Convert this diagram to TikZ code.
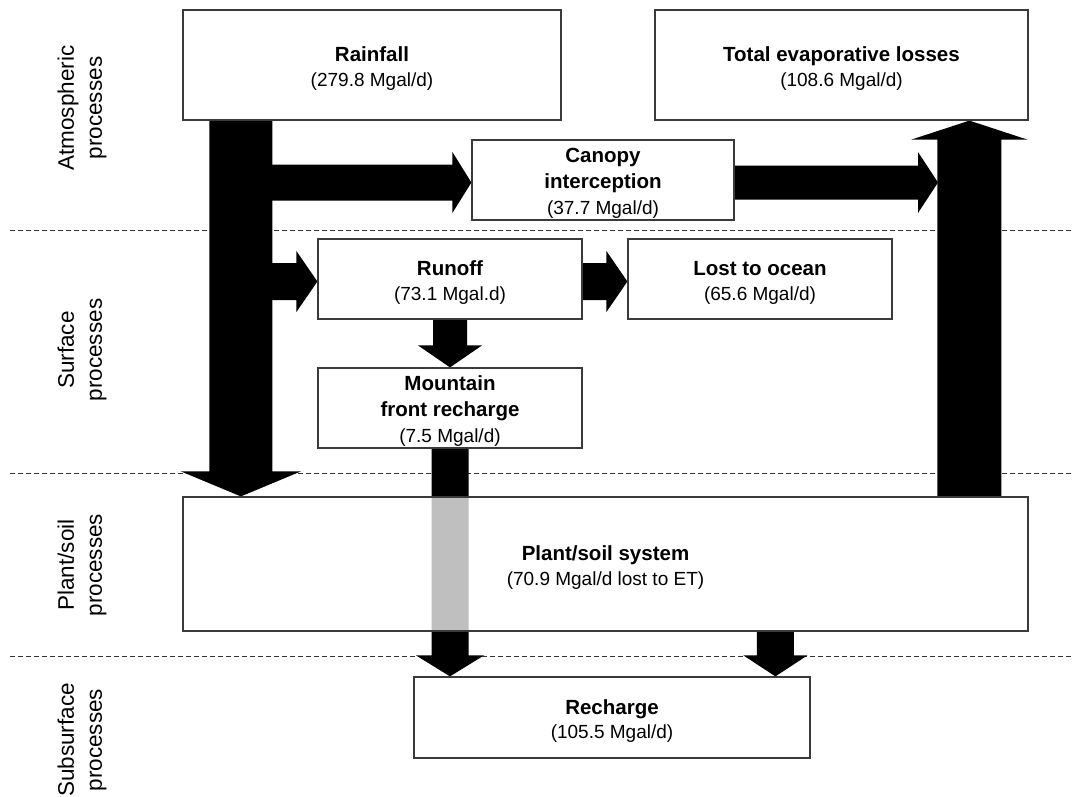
\documentclass[tikz,border=0pt]{standalone}
\usepackage{fontspec}
\setmainfont{Liberation Sans}
\usetikzlibrary{calc}
\definecolor{edgec}{HTML}{3A3A3A}
\definecolor{dashc}{HTML}{333333}
\newcommand{\ttl}[2][0pt]{{\fontsize{20.5}{24.5}\selectfont\bfseries\rule{0pt}{#1}#2}}
\newcommand{\ttlw}[2][0pt]{{\fontsize{20.5}{26}\selectfont\bfseries\rule{0pt}{#1}#2}}
\newcommand{\val}[1]{{\fontsize{19}{24.5}\selectfont #1}}
\newcommand{\valw}[1]{{\fontsize{19}{26}\selectfont #1}}
% vertical arrow downward: start, end (only its y is used), shaft half width, head half width, head length
\newcommand{\downarr}[5]{\fill[blk] let \p1=(#1),\p2=(#2) in
  (\x1-#3pt,\y1) -- (\x1-#3pt,\y2+#5pt) -- (\x1-#4pt,\y2+#5pt) -- (\x1,\y2) --
  (\x1+#4pt,\y2+#5pt) -- (\x1+#3pt,\y2+#5pt) -- (\x1+#3pt,\y1) -- cycle;}
\newcommand{\uparr}[5]{\fill[blk] let \p1=(#1),\p2=(#2) in
  (\x1-#3pt,\y1) -- (\x1-#3pt,\y2-#5pt) -- (\x1-#4pt,\y2-#5pt) -- (\x1,\y2) --
  (\x1+#4pt,\y2-#5pt) -- (\x1+#3pt,\y2-#5pt) -- (\x1+#3pt,\y1) -- cycle;}
\newcommand{\rightarr}[5]{\fill[blk] let \p1=(#1),\p2=(#2) in
  (\x1,\y1-#3pt) -- (\x2-#5pt,\y1-#3pt) -- (\x2-#5pt,\y1-#4pt) -- (\x2,\y1) --
  (\x2-#5pt,\y1+#4pt) -- (\x2-#5pt,\y1+#3pt) -- (\x1,\y1+#3pt) -- cycle;}
\begin{document}
\begin{tikzpicture}[x=1pt,y=-1pt,
  box/.style={draw=edgec, line width=1.2pt, fill=white, rectangle, inner sep=0pt,
    align=center, font=\fontsize{19}{24.5}\selectfont},
  box3/.style={box, font=\fontsize{19}{26}\selectfont},
  sidelabel/.style={rotate=90, align=center, inner sep=0pt, font=\fontsize{22.5}{28}\selectfont},
  blk/.style={fill=black},
  sep/.style={draw=dashc, line width=0.9pt, dash pattern=on 5pt off 3pt}]
\useasboundingbox (0,0) rectangle (1074,796);

% layer separators
\coordinate (s1a) at (10,230);  \coordinate (s1b) at (1074,230);
\coordinate (s2a) at (10,473);  \coordinate (s2b) at (1074,473);
\coordinate (s3a) at (10,656);  \coordinate (s3b) at (1074,656);
\draw[sep] (s1a) -- (s1b);
\draw[sep] (s2a) -- (s2b);
\draw[sep] (s3a) -- (s3b);

% side labels
\node[sidelabel] (lab1) at (82,108) {Atmospheric\\processes};
\node[sidelabel] (lab2) at (82,350) {Surface\\processes};
\node[sidelabel] (lab3) at (82,565) {Plant/soil\\processes};
\node[sidelabel] (lab4) at (82,740) {Subsurface\\processes};

% box geometry (anchors)
\path
  node[box, draw=none, fill=none, minimum width=378pt, minimum height=110pt] (rain) at (372,65) {}
  node[box, draw=none, fill=none, minimum width=373pt, minimum height=110pt] (evap) at (841.5,65) {}
  node[box, draw=none, fill=none, minimum width=262pt, minimum height=80pt] (canopy) at (603,180) {}
  node[box, draw=none, fill=none, minimum width=264pt, minimum height=80pt] (runoff) at (450,279) {}
  node[box, draw=none, fill=none, minimum width=264pt, minimum height=80pt] (ocean) at (760,279) {}
  node[box, draw=none, fill=none, minimum width=264pt, minimum height=80pt] (mount) at (450,408) {}
  node[box, draw=none, fill=none, minimum width=845pt, minimum height=134pt] (plant) at (605.5,564) {}
  node[box, draw=none, fill=none, minimum width=396pt, minimum height=81pt] (rech) at (612,717.5) {};

% branch points on the rainfall trunk and the evaporation column
\coordinate (trunk) at ($(rain.south west)+(58.5,0)$);
\coordinate (b1) at (trunk |- 0,182.5);
\coordinate (b2) at (trunk |- 0,281.5);
\coordinate (etop) at ($(plant.north west)+(787,0)$);
\coordinate (eleft) at (938,182.5);

% block arrows
\downarr{trunk}{plant.north}{31.5}{60}{25}
\rightarr{b1}{canopy.west}{18}{30.5}{19}
\rightarr{$(canopy.east)+(0,2.5)$}{eleft}{17}{30.5}{20}
\uparr{etop}{evap.south}{32}{58}{19}
\rightarr{b2}{runoff.west}{18.5}{30.5}{21}
\rightarr{$(runoff.east)+(0,2.5)$}{ocean.west}{18.5}{30.5}{21}
\downarr{runoff.south}{mount.north}{17}{32}{22}
\downarr{mount.south}{rech.north}{18.5}{34}{21}
\downarr{$(plant.south west)+(593,0)$}{rech.north}{18.5}{32}{21}

% boxes with text
\node[box, minimum width=378pt, minimum height=110pt] at (rain) {\ttl[22pt]{Rainfall}\\\val{(279.8 Mgal/d)}};
\node[box, minimum width=373pt, minimum height=110pt] at (evap) {\ttl[22pt]{Total evaporative losses}\\\val{(108.6 Mgal/d)}};
\node[box3, minimum width=262pt, minimum height=80pt] at (canopy) {\ttlw[20.7pt]{Canopy}\\\ttlw{interception}\\\valw{(37.7 Mgal/d)}};
\node[box, minimum width=264pt, minimum height=80pt] at (runoff) {\ttl[22pt]{Runoff}\\\val{(73.1 Mgal.d)}};
\node[box, minimum width=264pt, minimum height=80pt] at (ocean) {\ttl[22pt]{Lost to ocean}\\\val{(65.6 Mgal/d)}};
\node[box3, minimum width=264pt, minimum height=80pt] at (mount) {\ttlw[20.7pt]{Mountain}\\\ttlw{front recharge}\\\valw{(7.5 Mgal/d)}};
\node[box, fill opacity=0.75, text opacity=1, minimum width=845pt, minimum height=134pt] at (plant) {\ttl[22pt]{Plant/soil system}\\\val{(70.9 Mgal/d lost to ET)}};
\node[box, minimum width=396pt, minimum height=81pt] at (rech) {\ttl[22pt]{Recharge}\\\val{(105.5 Mgal/d)}};
\end{tikzpicture}
\end{document}
